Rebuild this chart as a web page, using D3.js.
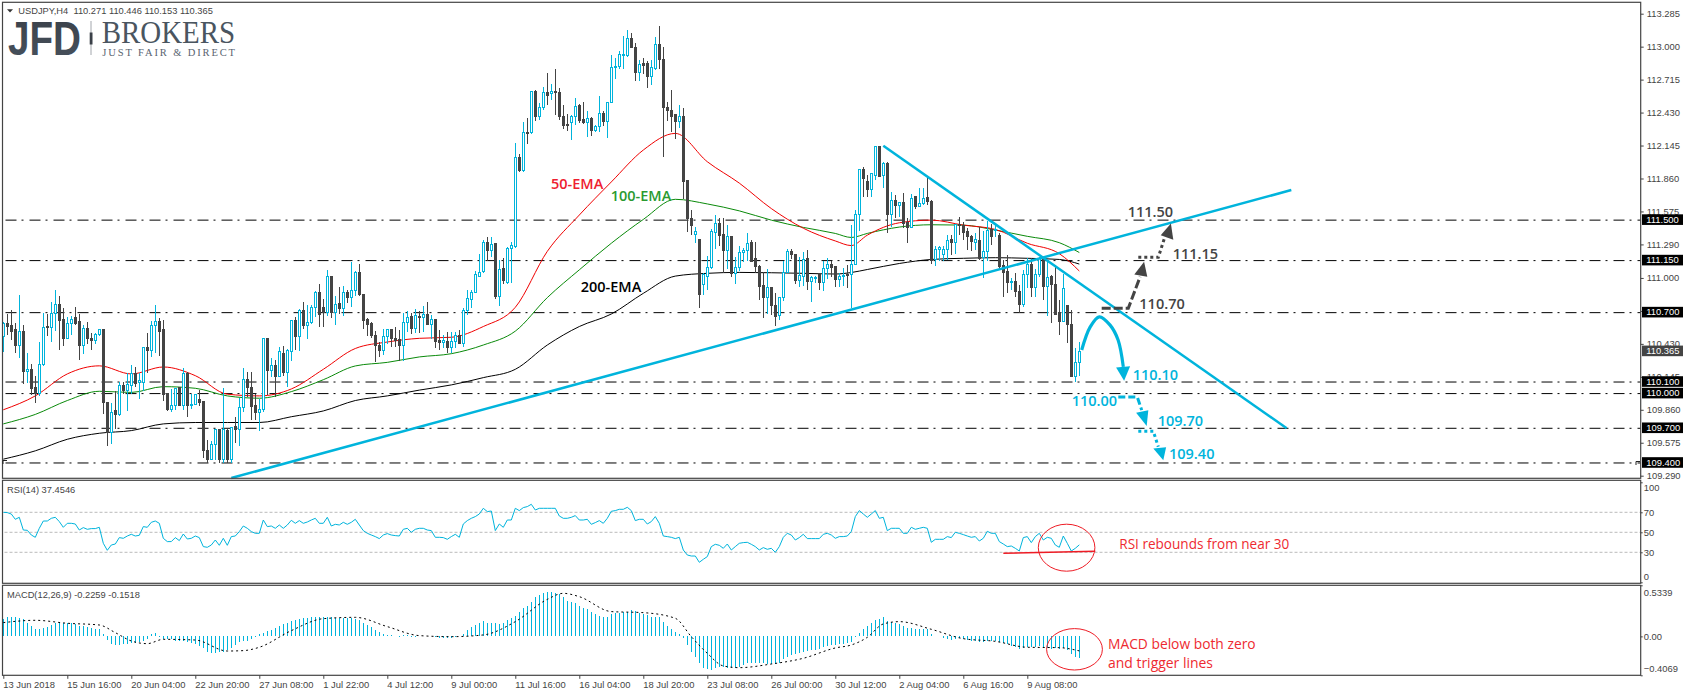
<!DOCTYPE html>
<html>
<head>
<meta charset="utf-8">
<title>USDJPY,H4</title>
<script src="https://d3js.org/d3.v7.min.js"></script>
<style>
body { margin:0; background:#fff; }
svg { display:block; }
.axis text { font-family:"Liberation Sans",Arial,sans-serif; font-size:9.4px; fill:#444; }
.axis line, .axis path { stroke:#444; }
.note { font-family:"Open Sans",sans-serif; font-size:14.5px; font-weight:600; }
.redNote { font-family:"Open Sans",sans-serif; font-size:14px; fill:#ee2a30; }
</style>
</head>
<body>
<div id="chart"></div>
<script>
var svgWidth = 1683;
var svgHeight = 696;

// candles, one row = 10 H4 bars
var opens = [
110.49,110.61,110.59,110.55,110.42,110.54,110.19,110.21,110.05,110.00,
110.25,110.58,110.57,110.69,110.77,110.64,110.48,110.61,110.66,110.62,
110.42,110.56,110.48,110.46,110.51,110.55,109.92,109.66,109.85,109.82,
110.07,110.03,110.07,110.17,110.10,110.10,110.40,110.37,110.59,110.625,
110.55,109.997,109.86,109.90,110.05,109.90,110.17,109.90,109.91,109.95,
109.93,109.51,109.43,109.56,109.69,109.43,109.68,109.43,109.715,109.69,
109.88,110.12,110.05,109.90,109.835,109.86,110.48,110.20,110.24,110.15,
110.35,110.18,110.36,110.63,110.49,110.72,110.59,110.615,110.745,110.87,
110.745,110.70,111.016,110.70,110.775,110.735,110.875,110.835,110.89,111.05,
110.86,110.64,110.61,110.50,110.42,110.37,110.495,110.55,110.48,110.47,
110.415,110.615,110.665,110.56,110.67,110.655,110.685,110.60,110.64,110.455,
110.44,110.45,110.40,110.45,110.505,110.43,110.72,110.81,110.875,111.016,
111.055,111.31,111.235,111.30,110.84,111.08,110.96,111.255,111.275,112.04,
111.93,112.26,112.255,112.61,112.40,112.47,112.60,112.595,112.615,112.605,
112.395,112.33,112.34,112.395,112.495,112.37,112.345,112.38,112.275,112.31,
112.42,112.35,112.515,112.82,112.83,112.92,112.92,113.07,112.99,112.775,
112.855,112.855,112.74,112.815,113.02,112.885,112.47,112.445,112.41,112.35,
112.40,111.84,111.515,111.375,111.33,110.94,111.015,111.09,111.39,111.47,
111.375,111.235,111.36,111.04,111.09,111.22,111.235,111.305,111.17,111.10,
110.935,110.83,110.92,110.765,110.673,110.83,111.05,111.23,111.206,110.975,
111.015,111.17,110.965,110.993,111.04,110.96,111.08,111.12,111.10,110.985,
111.015,111.03,111.03,111.12,111.55,111.94,111.83,111.765,111.89,112.14,
111.885,111.99,111.55,111.67,111.625,111.65,111.477,111.44,111.70,111.62,
111.645,111.696,111.665,111.16,111.246,111.206,111.246,111.333,111.307,111.465,
111.457,111.40,111.36,111.307,111.327,111.175,111.227,111.42,111.408,111.37,
111.11,111.054,110.96,110.973,110.886,110.774,111.03,111.12,110.915,111.03,
111.17,110.93,111.01,110.944,110.70,110.62,110.765,110.60,110.145,110.271];

var highs = [
110.62,110.69,110.72,110.61,110.85,110.59,110.35,110.26,110.15,110.45,
110.70,110.69,110.79,110.90,110.84,110.74,110.66,110.67,110.75,110.69,
110.59,110.62,110.52,110.52,110.55,110.55,109.92,109.92,110.02,110.10,
110.10,110.18,110.25,110.23,110.18,110.40,110.52,110.63,110.77,110.65,
110.64,110.00,110.04,110.04,110.05,110.22,110.19,110.00,109.99,110.03,
109.93,109.60,109.59,109.69,109.69,110.05,109.69,109.71,109.80,109.96,
110.22,110.19,110.19,110.00,109.95,110.48,110.48,110.305,110.29,110.40,
110.41,110.385,110.64,110.66,110.73,110.795,110.77,110.77,110.89,110.95,
110.82,111.07,111.016,110.84,110.92,110.93,110.90,111.14,111.06,111.12,
110.865,110.65,110.62,110.54,110.45,110.555,110.56,110.55,110.58,110.55,
110.70,110.71,110.70,110.73,110.71,110.757,110.79,110.68,110.645,110.55,
110.505,110.535,110.53,110.535,110.55,110.74,110.90,110.90,111.06,111.206,
111.33,111.35,111.35,111.30,111.155,111.17,111.27,111.31,112.17,112.07,
112.35,112.38,112.62,112.625,112.51,112.655,112.77,112.68,112.807,112.64,
112.495,112.42,112.41,112.56,112.50,112.52,112.44,112.395,112.32,112.57,
112.44,112.525,112.93,112.90,112.96,113.09,113.14,113.115,113.035,112.885,
112.90,112.875,112.885,113.085,113.18,113.00,112.525,112.625,112.42,112.495,
112.47,111.85,111.59,111.44,111.34,111.04,111.19,111.42,111.54,111.52,
111.52,111.455,111.36,111.18,111.28,111.255,111.385,111.325,111.31,111.11,
111.05,111.08,110.92,110.866,110.837,111.15,111.25,111.25,111.206,111.177,
111.226,111.24,111.02,111.02,111.04,111.15,111.17,111.15,111.10,111.045,
111.09,111.11,111.46,111.59,111.94,111.96,111.89,111.90,112.14,112.14,
112.0,112.005,111.745,111.716,111.66,111.737,111.515,111.725,111.708,111.78,
111.775,111.875,111.673,111.275,111.28,111.275,111.37,111.37,111.47,111.523,
111.486,111.428,111.37,111.385,111.44,111.41,111.495,111.47,111.47,111.385,
111.155,111.20,111.0,111.04,110.94,111.07,111.17,111.175,111.08,111.18,
111.18,111.14,111.025,111.11,110.81,111.03,110.765,110.72,110.39,110.446];

var lows = [
110.36,110.51,110.46,110.35,110.305,110.08,110.09,109.99,109.92,109.98,
110.24,110.50,110.45,110.54,110.38,110.41,110.47,110.51,110.59,110.29,
110.34,110.43,110.38,110.43,110.50,109.82,109.55,109.56,109.69,109.81,
110.00,109.85,110.00,110.06,109.95,110.02,110.18,110.32,110.35,110.325,
109.94,109.85,109.84,109.86,109.89,109.86,109.80,109.87,109.90,109.89,
109.44,109.40,109.43,109.43,109.40,109.40,109.40,109.40,109.57,109.55,
109.84,109.97,109.77,109.77,109.68,109.84,109.99,110.14,109.97,110.15,
110.15,110.06,110.28,110.38,110.37,110.555,110.47,110.60,110.665,110.58,
110.58,110.67,110.655,110.59,110.69,110.67,110.78,110.75,110.84,110.84,
110.56,110.50,110.48,110.27,110.32,110.33,110.43,110.40,110.40,110.285,
110.285,110.535,110.515,110.52,110.527,110.535,110.59,110.47,110.39,110.375,
110.39,110.35,110.35,110.39,110.43,110.40,110.68,110.74,110.87,111.005,
111.04,111.15,111.18,110.82,110.76,110.95,110.95,110.96,111.255,111.92,
111.92,112.16,112.245,112.36,112.365,112.45,112.495,112.54,112.41,112.37,
112.285,112.27,112.19,112.32,112.34,112.33,112.22,112.227,112.265,112.265,
112.31,112.21,112.51,112.72,112.81,112.81,112.91,112.985,112.705,112.705,
112.76,112.645,112.67,112.80,112.81,112.05,112.36,112.265,112.205,112.30,
111.68,111.40,111.37,111.30,110.74,110.85,110.895,111.08,111.25,111.28,
111.05,111.08,111.01,110.95,111.06,111.14,111.15,111.14,111.04,110.81,
110.655,110.69,110.68,110.586,110.635,110.80,111.04,111.16,110.95,110.92,
110.93,110.895,110.795,110.96,110.90,110.89,110.995,111.01,110.92,110.92,
110.93,110.91,110.736,111.11,111.405,111.70,111.70,111.70,111.85,111.88,
111.775,111.385,111.44,111.52,111.53,111.435,111.30,111.44,111.60,111.62,
111.63,111.63,111.12,111.10,111.15,111.15,111.155,111.197,111.21,111.37,
111.327,111.24,111.235,111.24,111.155,110.996,111.146,111.284,111.356,111.08,
110.837,110.866,110.895,110.837,110.70,110.745,110.91,110.837,110.837,111.01,
110.81,110.67,110.607,110.687,110.505,110.62,110.44,110.145,110.096,110.153];

var closes = [
110.61,110.58,110.54,110.42,110.54,110.19,110.21,110.04,110.00,110.25,
110.57,110.57,110.69,110.77,110.63,110.48,110.61,110.64,110.61,110.42,
110.56,110.48,110.46,110.51,110.55,109.92,109.66,109.84,109.82,110.07,
110.03,110.08,110.17,110.09,110.11,110.40,110.37,110.59,110.625,110.54,
109.99,109.86,109.90,110.04,109.90,110.17,109.90,109.91,109.99,109.92,
109.51,109.43,109.56,109.69,109.43,109.69,109.43,109.71,109.69,109.88,
110.12,110.05,109.89,109.84,109.865,110.48,110.20,110.24,110.15,110.36,
110.18,110.37,110.63,110.49,110.72,110.59,110.615,110.745,110.87,110.68,
110.70,111.016,110.70,110.77,110.735,110.875,110.835,110.89,111.05,110.86,
110.635,110.60,110.50,110.415,110.37,110.495,110.55,110.475,110.46,110.415,
110.615,110.66,110.56,110.675,110.655,110.685,110.60,110.64,110.45,110.44,
110.455,110.40,110.45,110.50,110.43,110.72,110.82,110.875,111.03,111.05,
111.31,111.235,111.29,110.84,111.075,110.98,111.255,111.28,112.04,111.93,
112.26,112.25,112.61,112.40,112.47,112.605,112.58,112.615,112.60,112.395,
112.32,112.317,112.395,112.48,112.365,112.345,112.38,112.275,112.31,112.42,
112.35,112.52,112.82,112.83,112.93,112.934,113.07,112.99,112.775,112.85,
112.84,112.74,112.82,113.02,112.885,112.47,112.445,112.40,112.35,112.40,
111.83,111.515,111.45,111.40,110.86,111.03,111.09,111.40,111.47,111.37,
111.235,111.36,111.04,111.09,111.22,111.24,111.30,111.14,111.10,110.93,
110.83,110.92,110.765,110.67,110.83,111.05,111.23,111.20,110.975,111.02,
111.16,110.97,111.0,111.005,110.96,111.08,111.12,111.09,110.985,111.015,
111.024,111.02,111.12,111.55,111.94,111.86,111.765,111.90,112.14,111.88,
111.99,111.55,111.67,111.63,111.65,111.475,111.44,111.69,111.615,111.645,
111.69,111.66,111.154,111.246,111.264,111.246,111.327,111.304,111.465,111.45,
111.39,111.36,111.313,111.333,111.17,111.23,111.414,111.36,111.42,111.097,
111.045,110.96,110.973,110.88,110.774,111.03,111.12,110.915,111.03,111.17,
110.93,111.005,110.94,110.687,110.62,110.91,110.60,110.145,110.27,110.365];

var emaBars = [0,8,16,24,32,40,48,56,64,72,80,88,96,104,112,120,128,136,144,152,160,168,176,184,192,200,208,212,216,224,232,240,248,256,264,269];
var ema50 = [109.86,109.98,110.17,110.24,110.17,110.23,110.155,109.995,109.98,110.04,110.21,110.39,110.446,110.478,110.487,110.58,110.746,111.23,111.544,111.83,112.106,112.25,112.005,111.82,111.60,111.43,111.32,111.28,111.37,111.477,111.50,111.457,111.42,111.30,111.21,111.06];
var ema100 = [109.738,109.82,109.94,110.02,110.01,110.06,110.046,109.98,109.96,110.017,110.12,110.239,110.27,110.317,110.345,110.42,110.54,110.83,111.07,111.30,111.506,111.68,111.64,111.58,111.50,111.437,111.385,111.35,111.385,111.44,111.46,111.457,111.414,111.36,111.305,111.22];
var ema200 = [109.433,109.505,109.605,109.657,109.68,109.738,109.75,109.75,109.75,109.80,109.85,109.94,109.98,110.03,110.075,110.138,110.21,110.42,110.58,110.688,110.867,111.016,111.04,111.048,111.045,111.04,111.034,111.047,111.073,111.125,111.16,111.17,111.175,111.17,111.16,111.12];

var rsiValues = [
70,69.7,68.3,63,65,52.3,52,47.3,45,54,
61.3,61.3,64,65,60.7,55,59,59,58.3,52.3,
54.7,53,53.7,53.7,55,39,32,37.3,38.3,44.7,
44,46.3,48,46.3,47,55.7,55,60,61.3,59,
44,40.7,40.7,44.7,41.7,48.3,43.3,44,46.3,44.7,
35.7,35,37.3,42.3,37,44,37,45.7,46.3,50.7,
56.3,54,50.7,49,49,62.3,55.7,56.3,54,57.3,
54,57.3,62,59,61.7,59,60.3,62.3,64,59,
59,65,56.3,58,57.3,60,58,60,63,57.3,
51.7,49,47.3,45.7,43.7,47.3,48.7,47.3,46.7,46.3,
53,54,50,53,54,54,52.3,51.7,45,45,
44.7,43,45.7,48,45,58.3,61.7,64,65.7,68.3,
74,70.7,71.3,51.7,58.3,55,62.3,62.3,74,71.7,
74.7,75.7,78,72.3,74,74,74,74,74,66.3,
64,64,65,66.7,62.3,62.3,63,58,59.7,61.7,
59,64,71,71.7,73,73,75,71.7,61.7,63,
63,58.3,60.7,65.7,59,46.3,45.7,45,43.7,45,
32.3,27.3,26.3,26.3,20,23,25.7,35.7,38,37,
34,38.3,32.3,35.7,39,39.7,40,38,35.7,32.3,
34.7,33,34,30,35.7,45,49,47.3,42.3,44.7,
48,43.7,43.7,43.7,43.7,48,49,47.3,44,45.7,
45.7,46.3,50.7,65.7,71.7,68.3,65,68.3,71.7,64,
65,51.7,54,54,54,49,49,55,53,54,
55,54,40,43,43,43,45.7,44.7,50,49,
47.7,46.3,45,45.7,41.3,44,51,49,49,40.7,
38.3,35.7,36.3,34,31.3,44.7,45.7,39.7,45.7,49,
42.3,45,44,37.3,35,46.3,39,31.3,34,37.45];

var macdValues = [
.178,.199,.203,.203,.192,.178,.144,.109,.081,.077,
.091,.102,.119,.144,.144,.140,.140,.137,.126,.109,
.109,.095,.084,.081,.074,.029,-.038,-.079,-.086,-.086,
-.079,-.079,-.072,-.066,-.055,-.048,-.031,.025,.032,-.003,
-.027,-.027,-.031,-.045,-.045,-.052,-.059,-.066,-.079,-.100,
-.125,-.160,-.170,-.177,-.160,-.160,-.142,-.125,-.090,-.062,
-.048,-.045,-.031,-.003,.025,.039,.060,.067,.084,.109,
.130,.144,.157,.171,.182,.189,.196,.199,.206,.199,
.206,.199,.199,.189,.189,.189,.189,.189,.182,.171,
.144,.119,.095,.067,.043,.025,.015,.011,.001,-.003,
.015,.011,-.003,-.006,.004,.004,.004,.001,-.006,-.013,
-.013,-.013,-.020,-.010,.008,.025,.067,.102,.119,.137,
.161,.144,.137,.137,.130,.137,.171,.189,.217,.259,
.293,.321,.363,.408,.433,.450,.461,.461,.457,.440,
.408,.373,.356,.346,.318,.300,.283,.259,.234,.217,
.206,.206,.231,.241,.248,.259,.259,.276,.265,.248,
.238,.224,.206,.206,.199,.154,.112,.077,.049,.025,
-.020,-.090,-.160,-.212,-.275,-.327,-.344,-.351,-.334,-.323,
-.316,-.327,-.334,-.334,-.323,-.299,-.282,-.275,-.275,-.282,
-.282,-.289,-.289,-.289,-.275,-.240,-.212,-.194,-.184,-.177,
-.160,-.149,-.142,-.142,-.135,-.114,-.100,-.090,-.086,-.083,
-.079,-.072,-.055,-.003,.039,.077,.109,.137,.171,.178,
.199,.164,.154,.137,.130,.109,.091,.084,.081,.081,
.077,.074,.025,.008,.004,-.020,-.031,-.038,-.031,-.020,
-.031,-.038,-.045,-.052,-.059,-.059,-.052,-.045,-.045,-.055,
-.066,-.079,-.100,-.114,-.135,-.121,-.114,-.114,-.114,-.100,
-.107,-.121,-.128,-.121,-.128,-.125,-.142,-.184,-.212,-.2259];

var signalBars = [0,8,16,24,28,32,36,40,48,56,60,64,72,80,88,96,104,112,120,128,136,140,144,152,160,168,172,176,180,184,192,200,208,212,216,220,224,232,240,248,256,264,269];
var signalValues = [.144,.168,.137,.119,.039,-.048,-.076,-.031,-.038,-.153,-.149,-.114,.060,.185,.199,.102,.008,-.003,.015,.154,.387,.450,.415,.259,.248,.189,-.003,-.177,-.309,-.327,-.289,-.229,-.121,-.090,-.010,.130,.154,.074,-.024,-.052,-.114,-.118,-.1518];

var priceTicks = [113.285,113,112.715,112.43,112.145,111.86,111.575,111.29,111,110.715,110.43,110.145,109.86,109.575,109.29];
var priceLevels = [111.5,111.15,110.7,110.1,110,109.7,109.4];
var lastPrice = 110.365;
var rsiTicks = [100,70,50,30,0];
var rsiLevels = [70,50,30];
var macdTicks = [0.5339,0,-0.4069];
var timeBars = [0,16,32,48,64,80,96,112,128,144,160,176,192,208,224,240,256];
var timeLabels = ["13 Jun 2018","15 Jun 16:00","20 Jun 04:00","22 Jun 20:00","27 Jun 08:00","1 Jul 22:00","4 Jul 12:00","9 Jul 00:00","11 Jul 16:00","16 Jul 04:00","18 Jul 20:00","23 Jul 08:00","26 Jul 00:00","30 Jul 12:00","2 Aug 04:00","6 Aug 16:00","9 Aug 08:00"];

// drawn objects as [bar, price]
var risingLine = [[57,109.27],[322,111.76]];
var fallingLine = [[220,112.143],[320.85,109.70]];
var reboundCurve = [[269.6,110.377],[271.7,110.575],[274,110.664],[276.7,110.592],[278.7,110.463],[280,110.231]];
var reboundHead = [[278.2,110.226],[281.7,110.237],[280.2,110.11]];
var upDash = [[274.6,110.737],[281.25,110.737],[284.2,111.01]];
var upDashHead = [[282.75,111.03],[286,111.01],[285.2,111.14]];
var upDot = [[283.75,111.178],[288.75,111.178],[290.4,111.356]];
var upDotHead = [[289.35,111.37],[292.5,111.33],[291.9,111.47]];
var downDash = [[278.75,109.97],[283.5,109.97],[284.6,109.857]];
var downDashHead = [[283.2,109.834],[286.25,109.857],[285.85,109.72]];
var downDot = [[283.75,109.675],[287.5,109.675],[288.75,109.54]];
var downDotHead = [[287.5,109.526],[290.7,109.535],[290,109.424]];
var rsiSupport = [[250,29],[273,31]];

var upColor = "#00b4dc";
var downColor = "#444444";

var svg = d3
.select("#chart")
.append("svg")
.attr("width", svgWidth)
.attr("height", svgHeight);

// panels
var leftEdge = 2.5;
var rightEdge = 1640.7;
var xScale = d3.scaleLinear().domain([0,269]).range([3.3,1079.3]);
var yPrice = d3.scaleLinear().domain([113.285,109.29]).range([13.7,475.7]);
var yRsi = d3.scaleLinear().domain([0,100]).range([582.3,482.3]);
var yMacd = d3.scaleLinear().domain([0.5339,-0.4069]).range([585.3,675.3]);

// bars sit on whole pixels so they stay sharp like the original
function barX(i) {
    return Math.round(xScale(i));
}

var linePrice = d3.line().x(d => xScale(d[0])).y(d => yPrice(d[1]));

// level lines go under the candles
svg.selectAll(".level")
.data(priceLevels)
.enter()
.append("line")
.attr("x1", leftEdge + 3)
.attr("x2", rightEdge)
.attr("y1", d => yPrice(d))
.attr("y2", d => yPrice(d))
.attr("stroke", "#000")
.attr("stroke-width", 1)
.attr("stroke-dasharray", "11 5 2 6");

function drawEma(values, color) {
    var pts = emaBars.map((b,i) => [b, values[i]]);
    svg.append("path")
    .attr("d", linePrice.curve(d3.curveMonotoneX)(pts))
    .attr("fill", "none")
    .attr("stroke", color)
    .attr("stroke-width", 1);
    linePrice.curve(d3.curveLinear);
}
drawEma(ema200, "#000");
drawEma(ema100, "#0a8a0a");
drawEma(ema50, "#f00000");

// candles
var candles = svg.append("g")
.attr("shape-rendering", "crispEdges")
.selectAll("g")
.data(opens)
.enter()
.append("g");

candles.append("line")
.attr("x1", (d,i) => barX(i) + 0.5)
.attr("x2", (d,i) => barX(i) + 0.5)
.attr("y1", (d,i) => yPrice(highs[i]))
.attr("y2", (d,i) => yPrice(lows[i]))
.attr("stroke", (d,i) => closes[i] >= opens[i] ? upColor : downColor)
.attr("stroke-width", 1);

candles.append("rect")
.attr("x", (d,i) => barX(i) - 0.5)
.attr("width", 2)
.attr("y", (d,i) => yPrice(Math.max(opens[i],closes[i])))
.attr("height", (d,i) => Math.max(0.6, Math.abs(yPrice(opens[i]) - yPrice(closes[i]))))
.attr("fill", (d,i) => closes[i] >= opens[i] ? "#fff" : downColor)
.attr("stroke", (d,i) => closes[i] >= opens[i] ? upColor : downColor)
.attr("stroke-width", 1);

// trend lines and arrows
function drawPath(pts, color, width, dash, curve) {
    svg.append("path")
    .attr("d", linePrice.curve(curve || d3.curveLinear)(pts))
    .attr("fill", "none")
    .attr("stroke", color)
    .attr("stroke-width", width)
    .attr("stroke-dasharray", dash || null);
    linePrice.curve(d3.curveLinear);
}
function drawHead(pts, color) {
    svg.append("path")
    .attr("d", linePrice(pts) + "Z")
    .attr("fill", color);
}
drawPath(risingLine, upColor, 2.5);
drawPath(fallingLine, upColor, 2.5);
drawPath(reboundCurve, upColor, 3.2, null, d3.curveCatmullRom);
drawHead(reboundHead, upColor);
drawPath(upDash, downColor, 3, "9 3");
drawHead(upDashHead, downColor);
drawPath(upDot, downColor, 3, "3 3");
drawHead(upDotHead, downColor);
drawPath(downDash, upColor, 3, "7 3");
drawHead(downDashHead, upColor);
drawPath(downDot, upColor, 3, "3 3");
drawHead(downDotHead, upColor);

// RSI panel
svg.selectAll(".rsiLevel")
.data(rsiLevels)
.enter()
.append("line")
.attr("x1", leftEdge + 2)
.attr("x2", rightEdge)
.attr("y1", d => yRsi(d))
.attr("y2", d => yRsi(d))
.attr("stroke", "#bbb")
.attr("stroke-width", 1)
.attr("stroke-dasharray", "3 2");

svg.append("path")
.attr("d", d3.line().x((d,i) => xScale(i)).y(d => yRsi(d))(rsiValues))
.attr("fill", "none")
.attr("stroke", upColor)
.attr("stroke-width", 1);

svg.append("line")
.attr("x1", xScale(rsiSupport[0][0]))
.attr("x2", xScale(rsiSupport[1][0]))
.attr("y1", yRsi(rsiSupport[0][1]))
.attr("y2", yRsi(rsiSupport[1][1]))
.attr("stroke", "#ee1c25")
.attr("stroke-width", 1.6);

// MACD panel
svg.append("g")
.attr("shape-rendering", "crispEdges")
.selectAll("line")
.data(macdValues)
.enter()
.append("line")
.attr("x1", (d,i) => barX(i) + 0.5)
.attr("x2", (d,i) => barX(i) + 0.5)
.attr("y1", yMacd(0))
.attr("y2", d => yMacd(d))
.attr("stroke", upColor)
.attr("stroke-width", 1);

svg.append("path")
.attr("d", d3.line().curve(d3.curveMonotoneX).x((d,i) => xScale(signalBars[i])).y(d => yMacd(d))(signalValues))
.attr("fill", "none")
.attr("stroke", "#000")
.attr("stroke-width", 1)
.attr("stroke-dasharray", "2 3");

// frames
[[2.3,478.3],[480.3,583.3],[585.3,675.3]].forEach(function(p){
    svg.append("rect")
    .attr("x", leftEdge)
    .attr("y", p[0])
    .attr("width", rightEdge - leftEdge)
    .attr("height", p[1] - p[0])
    .attr("fill", "none")
    .attr("stroke", "#444")
    .attr("stroke-width", 1.2);
});

// axes
var priceAxis = svg.append("g")
.attr("class", "axis")
.attr("transform", `translate(${rightEdge},0)`)
.call(d3.axisRight(yPrice).tickValues(priceTicks).tickFormat(d3.format(".3f")).tickSize(3).tickPadding(3));
priceAxis.select(".domain").remove();

var rsiAxis = svg.append("g")
.attr("class", "axis")
.attr("transform", `translate(${rightEdge},0)`)
.call(d3.axisRight(yRsi).tickValues(rsiTicks).tickFormat(d3.format("d")).tickSize(2).tickPadding(1));
rsiAxis.select(".domain").remove();
rsiAxis.selectAll("text").attr("y", d => d === 100 ? 4.7 : d === 0 ? -5.6 : 0);

var macdAxis = svg.append("g")
.attr("class", "axis")
.attr("transform", `translate(${rightEdge},0)`)
.call(d3.axisRight(yMacd).tickValues(macdTicks).tickFormat(d => d === 0 ? "0.00" : d3.format(".4f")(d)).tickSize(2).tickPadding(1));
macdAxis.select(".domain").remove();
macdAxis.selectAll("text").attr("y", d => d > 0 ? 6.7 : d < 0 ? -7 : 0);

var timeAxis = svg.append("g")
.attr("class", "axis")
.attr("transform", "translate(0,675.3)")
.call(d3.axisBottom(xScale).tickValues(timeBars).tickFormat((d,i) => timeLabels[i]).tickSize(3.5).tickPadding(2.5));
timeAxis.select(".domain").remove();
timeAxis.selectAll("text").attr("text-anchor", "start").attr("x", -0.5);

// price boxes on the right
function priceBox(price, color) {
    svg.append("rect")
    .attr("x", 1642)
    .attr("y", yPrice(price) - 5.8)
    .attr("width", 41)
    .attr("height", 10.6)
    .attr("fill", color);
    svg.append("text")
    .attr("x", 1646.3)
    .attr("y", yPrice(price) + 2.6)
    .attr("font-family", "Liberation Sans")
    .attr("font-size", 9.4)
    .attr("fill", "#fff")
    .text(d3.format(".3f")(price));
}
priceLevels.forEach(d => priceBox(d, "#000"));
priceBox(lastPrice, "#444");

// small marks at the ends of the lowest level
["M3 464V460.5H7","M1636 465V461.5H1640"].forEach(function(d){
    svg.append("path").attr("d", d).attr("fill", "none").attr("stroke", "#222").attr("stroke-width", 1);
});

// header
svg.append("path").attr("d", "M7 9.3H13L10 12.4Z").attr("fill", "#333");
svg.append("text")
.attr("x", 18.3)
.attr("y", 14)
.attr("font-family", "Liberation Sans")
.attr("font-size", 9.3)
.attr("fill", "#444")
.attr("xml:space", "preserve")
.text("USDJPY,H4  110.271 110.446 110.153 110.365");

svg.append("text")
.attr("x", 7)
.attr("y", 493)
.attr("font-family", "Liberation Sans")
.attr("font-size", 9.3)
.attr("fill", "#444")
.text("RSI(14) 37.4546");

svg.append("text")
.attr("x", 7)
.attr("y", 597.7)
.attr("font-family", "Liberation Sans")
.attr("font-size", 9.3)
.attr("fill", "#444")
.text("MACD(12,26,9) -0.2259 -0.1518");

// logo
var logoFill = svg.append("defs").append("linearGradient")
.attr("id", "logoFill")
.attr("x1", 0).attr("x2", 0).attr("y1", 0).attr("y2", 1);
logoFill.append("stop").attr("offset", "0%").attr("stop-color", "#3a4048");
logoFill.append("stop").attr("offset", "100%").attr("stop-color", "#48525e");

svg.append("text")
.attr("x", 8)
.attr("y", 55)
.attr("font-family", "Liberation Sans")
.attr("font-weight", "bold")
.attr("font-size", 47.5)
.attr("textLength", 73)
.attr("lengthAdjust", "spacingAndGlyphs")
.attr("fill", "url(#logoFill)")
.text("JFD");

svg.append("line").attr("x1", 91).attr("x2", 91).attr("y1", 21).attr("y2", 55).attr("stroke", "#8a9098").attr("stroke-width", 0.8);
svg.append("rect").attr("x", 89.7).attr("y", 32.5).attr("width", 2.8).attr("height", 12).attr("fill", "#3a4048");

svg.append("text")
.attr("x", 101.7)
.attr("y", 43.3)
.attr("font-family", "Liberation Serif")
.attr("font-size", 31)
.attr("textLength", 133.5)
.attr("lengthAdjust", "spacingAndGlyphs")
.attr("fill", "#4a5560")
.text("BROKERS");

svg.append("text")
.attr("x", 102.3)
.attr("y", 56)
.attr("font-family", "Liberation Serif")
.attr("font-size", 10.5)
.attr("textLength", 132.7)
.attr("fill", "#5a6470")
.text("JUST FAIR & DIRECT");

// text notes
function note(text, x, y, color) {
    svg.append("text")
    .attr("class", "note")
    .attr("x", x)
    .attr("y", y)
    .attr("dy", "0.35em")
    .attr("fill", color)
    .text(text);
}
note("111.50", 1127.7, 211.7, "#444");
note("111.15", 1172.7, 254, "#444");
note("110.70", 1139.3, 304, "#444");
note("110.10", 1132.7, 375, upColor);
note("110.00", 1071.7, 401, upColor);
note("109.70", 1157.7, 421, upColor);
note("109.40", 1169, 454.3, upColor);
note("50-EMA", 551, 184, "#ee2030");
note("100-EMA", 610.7, 196, "#2a9a30");
note("200-EMA", 580.7, 287.3, "#000");

// red remarks
svg.append("ellipse")
.attr("cx", 1066.6).attr("cy", 547.7).attr("rx", 28.3).attr("ry", 23.5)
.attr("fill", "none").attr("stroke", "#ee1c25").attr("stroke-width", 1);
svg.append("ellipse")
.attr("cx", 1074.5).attr("cy", 649.3).attr("rx", 27.9).attr("ry", 20.7)
.attr("fill", "none").attr("stroke", "#ee1c25").attr("stroke-width", 1);

function redNote(text, x, y, w) {
    svg.append("text")
    .attr("class", "redNote")
    .attr("x", x)
    .attr("y", y)
    .attr("dy", "0.35em")
    .attr("textLength", w)
    .attr("lengthAdjust", "spacingAndGlyphs")
    .text(text);
}
redNote("RSI rebounds from near 30", 1119.3, 544.3, 170);
redNote("MACD below both zero", 1108, 644, 147.6);
redNote("and trigger lines", 1108, 662.7, 105);
</script>
</body>
</html>
